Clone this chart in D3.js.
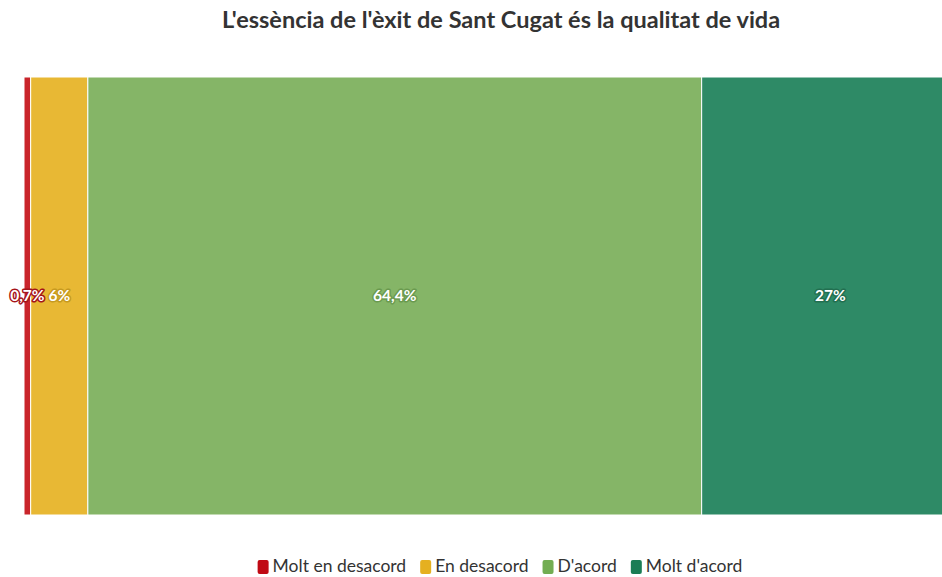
<!DOCTYPE html>
<html><head><meta charset="utf-8">
<script src="https://cdn.jsdelivr.net/npm/d3@7"></script>
<style>
body{margin:0;background:#fff;}
svg{display:block;font-family:Lato,"Open Sans",sans-serif;}
</style></head>
<body><svg id="c" width="942" height="577"></svg>
<script>
const title = "L'essència de l'èxit de Sant Cugat és la qualitat de vida";
const categories = ["Molt en desacord","En desacord","D'acord","Molt d'acord"];
const values = [0.7, 6, 64.4, 27];
const labels = ["0,7%","6%","64,4%","27%"];
const barColors = ["#c9252b","#e8b834","#85b567","#2e8a66"];
const legendColors = ["#c00a14","#e5b020","#72ad52","#1b7d55"];
const strokeColors = ["#a5141a","#c79a20","#6a9a4f","#226f50"];

const svg = d3.select("#c");
const total = d3.sum(values);
const x = d3.scaleLinear().domain([0,total]).range([24,959]);
const y = d3.scaleBand().domain(["row"]).range([77,515]).padding(0);

const cum = d3.cumsum(values);
const starts = values.map((v,i)=>cum[i]-v);

svg.append("text").attr("x",501).attr("y",28).attr("text-anchor","middle")
  .attr("font-size",23.5).attr("font-weight",700).attr("fill","#333").text(title);

const g = svg.append("g");
g.selectAll("rect").data(values).join("rect")
  .attr("x",(d,i)=>x(starts[i])).attr("y",y("row"))
  .attr("width",(d,i)=>x(cum[i])-x(starts[i])).attr("height",y.bandwidth())
  .attr("fill",(d,i)=>barColors[i]).attr("stroke","#fff").attr("stroke-width",1);

g.selectAll("text.lbl").data(values).join("text").attr("class","lbl")
  .attr("x",(d,i)=>(x(starts[i])+x(cum[i]))/2)
  .attr("y",y("row")+y.bandwidth()/2).attr("dy","0.35em")
  .attr("text-anchor","middle").attr("font-size",15.5).attr("font-weight",700)
  .attr("fill","#fff").attr("stroke",(d,i)=>strokeColors[i]).attr("stroke-width",3)
  .attr("paint-order","stroke").attr("stroke-linejoin","round")
  .text((d,i)=>labels[i]);

// legend
const lg = svg.append("g");
const items = lg.selectAll("g").data(categories).join("g");
items.append("rect").attr("width",11).attr("height",14).attr("rx",2).attr("y",-12)
  .attr("fill",(d,i)=>legendColors[i]);
items.append("text").attr("x",15).attr("font-size",17.5).attr("fill","#333").text(d=>d);
const gap = 14; const widths=[];
items.each(function(){ widths.push(this.getBBox().width); });
const totalW = d3.sum(widths)+gap*(widths.length-1);
let cx = 500 - totalW/2;
items.attr("transform",(d,i)=>{ const t=`translate(${cx},572)`; cx+=widths[i]+gap; return t; });
</script></body></html>
